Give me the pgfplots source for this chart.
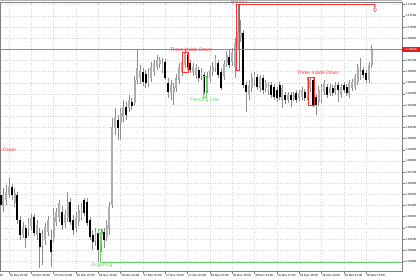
\documentclass[border=0pt]{standalone}
\usepackage{fontspec}
\setmainfont{Liberation Sans}
\usepackage{pgfplots}
\pgfplotsset{compat=1.18}
\usepackage{pgfplotstable}
\definecolor{bullc}{HTML}{ADADAD}
\definecolor{wickc}{HTML}{8C8C8C}
\definecolor{gridc}{HTML}{D6D6D6}
\definecolor{sigred}{HTML}{FF3434}
\definecolor{siggreen}{HTML}{66D066}
\definecolor{labelred}{HTML}{E02020}
\newcommand{\tickfont}{\fontsize{3}{3.6}\selectfont}
\newcommand{\sigfont}{\fontsize{5}{6}\selectfont}

\pgfplotstableread{
h o hi lo c
4 85 90 70 75
5 73 92 68 85
6 80 95 75 88
7 85 102 82 93
8 93 96 80 85
9 77 92 73 87
10 85 88 56 60
11 60 64 40 45
12 45 58 42 53
13 52 55 32 42
14 48 62 44 58
15 54 66 50 62
16 63 66 44 47
17 45 60 40 55
18 47 52 12 33
19 35 50 15 43
20 40 57 35 53
21 48 64 44 60
22 40 50 13 28
23 42 72 38 63
24 58 72 54 68
25 63 80 58 77
26 68 74 50 55
27 57 70 52 65
28 62 88 58 78
29 78 82 55 58
30 60 65 45 50
31 52 68 48 63
32 58 75 54 70
33 63 77 60 73
34 80 82 64 67
35 78 82 54 57
36 60 63 40 43
37 45 50 30 38
38 40 52 34 48
39 47 50 18 30
40 35 51 28 48
41 48 52 32 40
42 43 60 39 55
43 52 78 45 73
44 75 162 72 153
45 152 172 145 163
46 160 165 140 152
47 157 172 140 167
48 163 180 158 173
49 173 178 160 165
50 172 185 168 180
51 178 182 170 174
52 177 204 174 200
53 200 230 196 212
54 202 215 196 210
55 208 212 194 198
56 206 210 192 197
57 197 212 193 208
58 202 218 198 213
59 208 220 204 217
60 213 225 210 220
61 216 223 212 220
62 210 222 207 218
63 218 221 200 202
64 197 202 182 188
65 188 200 180 195
66 187 197 175 193
67 192 206 188 202
68 200 217 196 213
69 208 222 204 218
70 215 230 212 227
71 225 228 210 213
72 217 220 207 210
73 208 217 204 213
74 205 216 201 212
75 210 213 198 202
76 204 212 200 208
77 205 208 185 188
78 190 208 187 202
79 202 214 198 210
80 208 218 204 214
81 212 225 208 222
82 217 220 202 205
83 208 212 190 192
84 204 220 200 216
85 217 229 213 225
86 223 230 212 215
87 218 232 214 228
88 213 242 202 237
89 233 275 230 248
90 242 260 238 248
91 247 250 192 195
92 195 198 168 188
93 185 200 180 195
94 192 207 188 203
95 198 208 194 205
96 203 206 190 193
97 192 205 188 202
98 202 205 186 190
99 192 200 188 197
100 190 198 185 195
101 195 198 182 185
102 193 196 180 183
103 190 193 178 182
104 195 198 180 183
105 180 195 172 192
106 185 188 176 180
107 180 188 177 185
108 185 188 173 180
109 182 188 179 185
110 187 190 177 180
111 182 190 179 187
112 183 193 180 190
113 188 191 179 182
114 183 203 180 200
115 192 203 188 200
116 200 202 173 175
117 183 186 165 175
118 178 194 174 190
119 180 196 177 193
120 188 200 185 197
121 193 196 182 185
122 187 196 184 193
123 192 195 184 187
124 188 198 185 195
125 195 198 178 190
126 185 196 182 193
127 195 198 187 190
128 193 196 184 187
129 185 200 182 197
130 192 201 189 198
131 193 206 190 203
132 198 216 195 213
133 203 222 200 208
134 210 213 202 205
135 207 210 197 200
136 200 218 197 215
137 215 235 212 231
}\ohlc

\begin{document}
\begin{tikzpicture}
\useasboundingbox (0,0) rectangle (420bp,280bp);
\begin{axis}[
  at={(0,9bp)}, anchor=south west,
  scale only axis, width=402bp, height=269bp,
  xmin=3.77, xmax=147.86, ymin=9, ymax=278,
  clip=false, axis on top=false,
  axis line style={draw=gray, line width=0.5bp},
  tick align=outside, major tick length=2.5bp,
  tick style={gray, line width=0.4bp},
  xtick pos=left, ytick pos=right,
  yticklabel pos=right,
  grid=major, grid style={gridc, dotted, line width=0.4bp},
  xtick={7,15,23,31,39,47,55,63,71,79,87,95,103,111,119,127,135},
  xticklabels={25 Nov 07:00,25 Nov 15:00,25 Nov 23:00,26 Nov 07:00,26 Nov 15:00,26 Nov 23:00,27 Nov 07:00,27 Nov 15:00,27 Nov 23:00,28 Nov 07:00,28 Nov 15:00,28 Nov 23:00,29 Nov 07:00,29 Nov 15:00,29 Nov 23:00,30 Nov 07:00,30 Nov 15:00},
  xticklabel style={font=\tickfont, anchor=north west, inner sep=0.4bp, xshift=0.2bp},
  ytick={18.70,29.86,41.01,52.17,63.33,74.49,85.64,96.80,107.96,119.11,130.27,141.43,152.59,163.74,174.90,186.06,197.21,208.37,219.53,241.84,253.00,264.16,275.32},
  yticklabels={1.14900,1.15000,1.15100,1.15200,1.15300,1.15400,1.15500,1.15600,1.15700,1.15800,1.15900,1.16000,1.16100,1.16200,1.16300,1.16400,1.16500,1.16600,1.16700,1.16900,1.17000,1.17100,1.17200},
  yticklabel style={font=\tickfont, anchor=west, inner sep=0.4bp, xshift=0.3bp},
  candle/.style={draw=none, mark=none, forget plot, error bars/.cd, y dir=plus, y explicit, error mark=none},
]
% wicks
\addplot[candle, error bar style={draw=wickc, line width=0.55bp}]
  table[x=h, y=lo, y error plus expr={\thisrow{hi}-\thisrow{lo}}] {\ohlc};
% bearish bodies
\addplot[candle, error bar style={draw=black, line width=1.9bp, line cap=butt}]
  table[x=h, y=c, y error plus expr={max(\thisrow{o}-\thisrow{c},0)}] {\ohlc};
% bullish bodies
\addplot[candle, error bar style={draw=bullc, line width=1.9bp, line cap=butt}]
  table[x=h, y=o, y error plus expr={max(\thisrow{c}-\thisrow{o},0)}] {\ohlc};
% current price line
\draw[red!65, line width=1bp] (axis cs:3.77,230.69) -- (axis cs:147.86,230.69);
% engulfing marker
\addplot[siggreen, line width=1bp, forget plot] coordinates {(39.6,17.5) (147.86,17.5)};
\addplot[siggreen, line width=0.6bp, forget plot] coordinates {(39.6,47) (39.6,17.5)};
\draw[siggreen, line width=0.5bp] (axis cs:38.9,47) rectangle (axis cs:40.3,51);
% piercing line marker
\draw[siggreen, line width=0.5bp] (axis cs:76.6,183) rectangle (axis cs:77.6,204);
% three inside down boxes
\draw[sigred, line width=0.5bp] (axis cs:69.0,208) rectangle (axis cs:71.2,228);
\draw[sigred, line width=0.5bp] (axis cs:114.2,175) rectangle (axis cs:116.3,203);
% harami box and target line
\draw[sigred, line width=0.5bp] (axis cs:88.4,210) rectangle (axis cs:89.6,276);
\draw[sigred, line width=0.8bp] (axis cs:89.6,276) -- (axis cs:138.2,276);
\draw[sigred, fill=white, line width=0.4bp] (axis cs:138.2,275) ++(-0.7bp,0bp) -- ++(0bp,-4bp) -- ++(-1.1bp,0bp) -- ++(1.8bp,-3bp) -- ++(1.8bp,3bp) -- ++(-1.1bp,0bp) -- ++(0bp,4bp) -- cycle;
% labels
\node[sigred, font=\sigfont, inner sep=0pt] at (axis cs:72.2,230.5) {Three Inside Down};
\node[sigred, font=\sigfont, inner sep=0pt] at (axis cs:117.8,207.5) {Three Inside Down};
\node[sigred, font=\sigfont, inner sep=0pt] at (axis cs:2.0,130.5) {Three Inside Down};
\node[siggreen, font=\sigfont, inner sep=0pt] at (axis cs:77.2,180) {Piercing Line};
\node[siggreen, font=\sigfont, inner sep=0pt] at (axis cs:40.3,14.5) {Engulfing};
\node[sigred, font=\sigfont, inner sep=0pt] at (axis cs:89.4,278.6) {Harami};
\node[font=\tickfont, anchor=north east, inner sep=0.4bp] at ([yshift=-2.5bp]axis cs:5.1,9) {25 Nov 2025};
\draw[gray, line width=0.4bp] (axis cs:147.86,230.69) -- ++(2.5bp,0bp);
\node[fill=labelred, text=white, font=\tickfont, anchor=west, inner sep=0.4bp, minimum height=5bp, minimum width=18bp] at (axis cs:147.86,230.69) {1.16800};
\end{axis}
\draw[gray!60, line width=1bp] (0,279.5bp) -- (402bp,279.5bp);
\end{tikzpicture}
\end{document}
